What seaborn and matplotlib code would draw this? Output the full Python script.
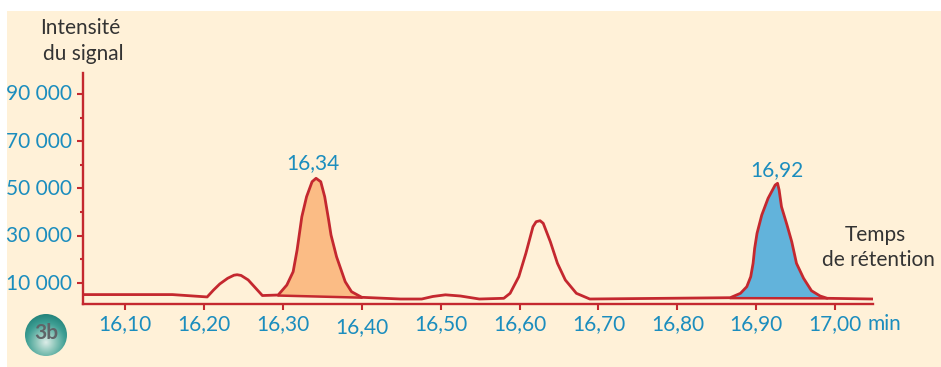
import numpy as np
import pandas as pd
import matplotlib
matplotlib.use('Agg')
import matplotlib.pyplot as plt
import seaborn as sns
from matplotlib.patches import Rectangle, Circle
from matplotlib.transforms import ScaledTranslation

# chromatogram trace
retention = [16.047, 16.160, 16.204, 16.212, 16.220, 16.230, 16.238, 16.242, 16.247, 16.256, 16.265, 16.274,
             16.294, 16.305, 16.313, 16.318, 16.324, 16.330, 16.337, 16.342, 16.348, 16.353, 16.358, 16.361,
             16.368, 16.379, 16.387, 16.400, 16.449, 16.476, 16.490, 16.506, 16.525, 16.549,
             16.580, 16.588, 16.599, 16.608, 16.617, 16.621, 16.626, 16.630, 16.639, 16.648, 16.658, 16.672, 16.689,
             16.867, 16.880, 16.888, 16.893, 16.896, 16.898, 16.901, 16.907, 16.915, 16.924, 16.927, 16.929,
             16.932, 16.939, 16.945, 16.951, 16.960, 16.970, 16.981, 16.990, 17.048]
signal = [5100, 5100, 4100, 7000, 9600, 12000, 13300, 13500, 13200, 11300, 8000, 4700,
          4920, 9150, 14780, 23960, 38040, 46500, 52850, 54290, 52850, 46500, 36650, 30300,
          21120, 10550, 6320, 3950, 3230, 3230, 4300, 5000, 4500, 3230,
          3530, 5640, 12660, 22560, 33810, 35930, 36350, 35250, 27470, 18330, 11270, 5640, 3230,
          3780, 5640, 8430, 12660, 18330, 24680, 31020, 38760, 45830, 51450, 52170, 49340,
          42270, 34530, 27470, 18330, 11990, 6740, 4500, 3530, 3230]
orange_base = [4700, 3800]
orange_span = [16.294, 16.400]
blue_base = [3600, 3500]
blue_span = [16.867, 16.990]

x_ticks = [16.10, 16.20, 16.30, 16.40, 16.50, 16.60, 16.70, 16.80, 16.90, 17.00]
x_labels = ['16,10', '16,20', '16,30', '16,40', '16,50', '16,60', '16,70', '16,80', '16,90', '17,00']
y_ticks = [10000, 30000, 50000, 70000, 90000]
y_labels = ['10 000', '30 000', '50 000', '70 000', '90 000']
y_minor = [20000, 40000, 60000, 80000]

RED = '#C4282F'
BLUE = '#1B8DBE'
DARK = '#333333'
W, H = 941, 367

sns.set_style('white')
plt.rcParams['font.family'] = ['Lato', 'DejaVu Sans']
plt.rcParams['font.size'] = 15

fig = plt.figure(figsize=(W / 100, H / 100), dpi=100, facecolor='white')
fig.patches.append(Rectangle((7 / W, 0), (W - 7) / W, (H - 11) / H, transform=fig.transFigure,
                             facecolor='#FFF1D8', edgecolor='none', zorder=-5))
ax = fig.add_axes([83.3 / W, (H - 303.5) / H, (873 - 83.3) / W, (303.5 - 72.7) / H])
ax.patch.set_alpha(0)

df = pd.DataFrame({'retention': retention, 'signal': signal})

# shaded peaks
x = np.array(retention)
y = np.array(signal)
m = (x >= orange_span[0]) & (x <= orange_span[1])
ax.fill_between(x[m], y[m], np.interp(x[m], orange_span, orange_base), color='#FBBC85', lw=0)
m = (x >= blue_span[0]) & (x <= blue_span[1])
ax.fill_between(x[m], y[m], np.interp(x[m], blue_span, blue_base), color='#62B3DB', lw=0)

sns.lineplot(data=df, x='retention', y='signal', color=RED, lw=2, estimator=None, sort=False, ax=ax,
             solid_joinstyle='round')
ax.plot(orange_span, orange_base, color=RED, lw=1.8)
ax.plot(blue_span, blue_base, color=RED, lw=1.8)

ax.set_xlim(16.047, 17.048)
ax.set_ylim(1330, 98960)
ax.set_xlabel('')
ax.set_ylabel('')
for s in ['top', 'right']:
    ax.spines[s].set_visible(False)
for s in ['left', 'bottom']:
    ax.spines[s].set_color(RED)
    ax.spines[s].set_linewidth(1.7)

ax.set_xticks(x_ticks, x_labels)
ax.set_yticks(y_ticks, y_labels)
ax.set_yticks(y_minor, minor=True)
ax.tick_params(axis='x', length=4, width=1.5, color=RED, labelcolor=BLUE, labelsize=15, pad=3.5, bottom=True)
ax.tick_params(axis='y', length=4, width=1.5, color=RED, labelcolor=BLUE, labelsize=15, pad=4, left=True)
ax.tick_params(axis='y', which='minor', length=2.5, width=1.5, color=RED, left=True)

# the 16,40 label sits a bit lower in the original
lab = ax.get_xticklabels()[3]
lab.set_transform(lab.get_transform() + ScaledTranslation(0, -2 / 72, fig.dpi_scale_trans))
for lab in ax.get_yticklabels():
    lab.set_transform(lab.get_transform() + ScaledTranslation(0, 1 / 72, fig.dpi_scale_trans))


def px_text(px, py, s, **kw):
    fig.text(px / W, 1 - py / H, s, ha='center', va='center', **kw)


px_text(80.5, 28, 'Intensité', color=DARK, fontsize=15)
px_text(83.5, 54, 'du signal', color=DARK, fontsize=15)
px_text(313, 163, '16,34', color=BLUE, fontsize=15)
px_text(777, 170, '16,92', color=BLUE, fontsize=15)
px_text(875.5, 235, 'Temps', color=DARK, fontsize=15)
px_text(878, 260, 'de rétention', color=DARK, fontsize=15)
px_text(884, 324, 'min', color=BLUE, fontsize=15)

# round 3b badge with a radial gradient
bad = fig.add_axes([25 / W, 1 - 356 / H, 42 / W, 42 / H])
gx, gy = np.meshgrid(np.linspace(-1, 1, 84), np.linspace(-1, 1, 84))
r = np.hypot(gx, gy - 0.35)
im = bad.imshow(r, cmap=sns.blend_palette(['#DDEDE8', '#8CC6BA', '#3F9F94', '#1F8078'], as_cmap=True),
                extent=(-1, 1, -1, 1), vmin=0, vmax=1.4)
im.set_clip_path(Circle((0, 0), 1, transform=bad.transData))
bad.axis('off')
px_text(46, 333, '3b', color='#5F6468', fontsize=15, fontweight='bold')

fig.savefig('out.png', dpi=100)
